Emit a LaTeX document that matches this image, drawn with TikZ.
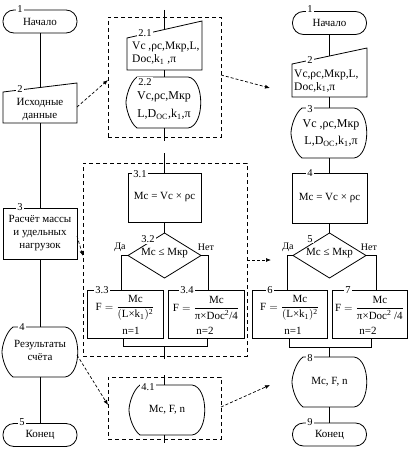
\documentclass[tikz,border=0pt]{standalone}
\usepackage{amsmath}
\usepackage{fontspec}
\setmainfont{Liberation Serif}
\usetikzlibrary{arrows.meta,calc}
\newcommand\dispshape[4]{%
 \draw[ln] ({#1-#3+11},{#2-#4}) -- ({#1+#3-13},{#2-#4})
   .. controls ({#1+#3+4},{#2-#4+2}) and ({#1+#3+4},{#2+#4-2}) .. ({#1+#3-13},{#2+#4})
   -- ({#1-#3+11},{#2+#4})
   .. controls ({#1-#3+4},{#2+#4-5}) and ({#1-#3},{#2+6}) .. ({#1-#3},{#2})
   .. controls ({#1-#3},{#2-6}) and ({#1-#3+4},{#2-#4+5}) .. ({#1-#3+11},{#2-#4}) -- cycle;}
\begin{document}
\begin{tikzpicture}[x=1pt,y=-1pt,
  every node/.style={font=\rmfamily\fontsize{11}{13}\selectfont, inner sep=0pt},
  ln/.style={line width=0.8pt},
  box/.style={draw, line width=0.8pt, rectangle, inner sep=0pt},
  term/.style={draw, line width=0.8pt, rounded corners=11pt, minimum width=74pt, minimum height=23pt},
  lbl/.style={fill=white, inner sep=1pt, font=\rmfamily\fontsize{10.5}{12}\selectfont},
  dbox/.style={draw, line width=0.8pt, dash pattern=on 4pt off 3pt},
  darr/.style={line width=0.7pt, dash pattern=on 3pt off 2pt, -{Latex[length=5pt,width=4pt]}},
  big/.style={font=\rmfamily\fontsize{12}{18}\selectfont, align=center},
  yn/.style={font=\rmfamily\fontsize{10}{12}\selectfont},
]
\useasboundingbox (0,0) rectangle (409,452);

% ================= Left column
\node[term] (t1) at (40,21.5) {Начало};
\draw[ln] (3,92) -- (77,83) -- (77,123) -- (3,123) -- cycle;
\coordinate (n2t) at (40,87.5);
\coordinate (n2b) at (40,123);
\coordinate (n2r) at (77,107);
\node[align=center] (n2) at (40,109) {Исходные\\данные};
\node[box, minimum width=74pt, minimum height=51pt, align=center] (b3) at (40,233.5) {Расчёт массы\\и удельных\\нагрузок};
\coordinate (b3r) at (77,236);
\dispshape{40}{352}{38}{25}
\coordinate (d4t) at (40,327);
\coordinate (d4b) at (40,377);
\coordinate (d4r) at (77,355);
\node[align=center] (d4) at (40,350.5) {Результаты\\счёта};
\node[term] (t5) at (40,435) {Конец};

\draw[ln] (t1.south) -- (n2t);
\draw[ln] (n2b) -- (b3.north);
\draw[ln] (b3.south) -- (d4t);
\draw[ln] (d4b) -- (t5.north);

\node[lbl] (l1) at (20,9) {1};
\node[lbl] (l2) at (20,89) {2};
\node[lbl] (l3) at (20,207.5) {3};
\node[lbl] (l4) at (22,327) {4};
\node[lbl] (l5) at (22,422.5) {5};

% ================= Middle column
\node[dbox, minimum width=113pt, minimum height=120pt] (db2) at (164.5,77) {};
\node[dbox, minimum width=164pt, minimum height=193pt] (dbb) at (165,259.5) {};
\node[dbox, minimum width=113pt, minimum height=62pt] (db41) at (164.5,408) {};

\coordinate (m0) at (164.5,10);
\draw[ln] (127,38) -- (202,21) -- (202,70) -- (127,70) -- cycle;
\coordinate (m21t) at (164.5,29.5);
\coordinate (m21b) at (164.5,70);
\node[anchor=west, align=left, font=\rmfamily\fontsize{11.5}{13}\selectfont] (m21) at (132,53.5) {Vc ,ρc,Mкр,L,\\Doc,k\textsubscript{1} ,π};
\dispshape{163.5}{102.5}{37.5}{25.5}
\coordinate (m22t) at (164.5,77);
\coordinate (m22b) at (164.5,128);
\node[big] (m22) at (164,106) {Vc,ρc,Mкр\\L,D\textsubscript{OC},k\textsubscript{1},π};
\coordinate (m1) at (164.5,141);
\coordinate (m2) at (164.5,153);
\node[box, minimum width=73pt, minimum height=49pt] (b31) at (164.5,197.5) {Mc = Vc × ρc};
\coordinate (d32t) at (164.5,233);
\coordinate (d32r) at (201,255.5);
\coordinate (d32b) at (164.5,278);
\coordinate (d32l) at (128,255.5);
\draw[ln] (d32t) -- (d32r) -- (d32b) -- (d32l) -- cycle;
\node (d32) at (164.5,253) {Mc ≤ Mкр};
\node[box, minimum width=76pt, minimum height=48pt] (b33) at (125,314) {};
\node[box, minimum width=76pt, minimum height=48pt] (b34) at (206,314) {};
\node (f33) at (125,308) {$\text{F} = \dfrac{\text{Mc}}{(\text{L×k}_{\text{1}})^{\text{2}}}$};
\node (n33) at (131,331) {n=1};
\node (f34) at (206,308) {$\text{F} = \dfrac{\text{Mc}}{\text{π×Doc}^{\text{2}}\text{/4}}$};
\node (n34) at (205,331) {n=2};
\coordinate (c33) at (121,290);
\coordinate (c34) at (208,290);
\coordinate (j33) at (123,338);
\coordinate (j34) at (207,338);
\coordinate (jl) at (123,346);
\coordinate (jr) at (207,346);
\coordinate (jc) at (164.5,346);
\coordinate (m3) at (164.5,359);
\coordinate (m4) at (164.5,375);
\dispshape{167}{410}{38}{25}
\coordinate (d41t) at (164.5,385);
\coordinate (d41b) at (164.5,435);
\coordinate (m5) at (164.5,443);
\node (d41) at (167,410) {Mc, F, n};

\draw[ln] (m0) -- (m21t);
\draw[ln] (m21b) -- (m22t);
\draw[ln] (m22b) -- (m1);
\draw[ln] (m2) -- (b31.north);
\draw[ln] (b31.south) -- (d32t);
\draw[ln] (d32l) -| (c33);
\draw[ln] (d32r) -| (c34);
\draw[ln] (j33) -- (jl) -- (jr) -- (j34);
\draw[ln] (jc) -- (m3);
\draw[ln] (m4) -- (d41t);
\draw[ln] (d41b) -- (m5);

\node[yn] (da1) at (120,247) {Да};
\node[yn] (net1) at (206,247) {Нет};
\node[lbl] (l21) at (145,33) {2.1};
\node[lbl] (l22) at (145,82) {2.2};
\node[lbl] (l31) at (140,174) {3.1};
\node[lbl] (l32) at (148,239) {3.2};
\node[lbl] (l33) at (102,290) {3.3};
\node[lbl] (l34) at (187,290) {3.4};
\node[lbl] (l41) at (148,387) {4.1};

% ================= Right column
\node[term] (r1) at (329.5,23) {Начало};
\draw[ln] (292,64) -- (367,48) -- (367,97) -- (292,97) -- cycle;
\coordinate (r2t) at (329.5,56);
\coordinate (r2b) at (329.5,97);
\node[anchor=west, align=left, font=\rmfamily\fontsize{11.5}{12.5}\selectfont] (r2) at (294,81) {Vc,ρc,Mкр,L,\\Doc,k\textsubscript{1},π};
\dispshape{329}{133}{38}{25}
\coordinate (r3t) at (329.5,108);
\coordinate (r3b) at (329.5,158);
\node[big, font=\rmfamily\fontsize{12}{17}\selectfont] (r3) at (331,133.5) {Vc ,ρc,Mкр\\L,D\textsubscript{OC},k\textsubscript{1},π};
\node[box, minimum width=75pt, minimum height=50pt] (r4) at (329.5,198) {Mc = Vc × ρc};
\coordinate (r5t) at (329.5,233);
\coordinate (r5r) at (366,255.5);
\coordinate (r5b) at (329.5,278);
\coordinate (r5l) at (293,255.5);
\draw[ln] (r5t) -- (r5r) -- (r5b) -- (r5l) -- cycle;
\node (r5) at (329.5,253) {Mc ≤ Mкр};
\node[box, minimum width=75pt, minimum height=48pt] (r6) at (289.5,314) {};
\node[box, minimum width=75pt, minimum height=48pt] (r7) at (369.5,314) {};
\node (f6) at (289.5,308) {$\text{F} = \dfrac{\text{Mc}}{(\text{L×k}_{\text{1}})^{\text{2}}}$};
\node (n6) at (293,331) {n=1};
\node (f7) at (369.5,308) {$\text{F} = \dfrac{\text{Mc}}{\text{π×Doc}^{\text{2}}\text{ /4}}$};
\node (n7) at (368,331) {n=2};
\coordinate (c6) at (287,290);
\coordinate (c7) at (376,290);
\coordinate (j6) at (289,338);
\coordinate (j7) at (371,338);
\coordinate (jl6) at (289,347);
\coordinate (jr7) at (371,347);
\coordinate (jc2) at (329.5,347);
\dispshape{329.5}{382}{37.5}{25}
\coordinate (r8t) at (329.5,357);
\coordinate (r8b) at (329.5,407);
\node (r8) at (329.5,382) {Mc, F, n};
\node[term] (r9) at (329.5,434.5) {Конец};

\draw[ln] (r1.south) -- (r2t);
\draw[ln] (r2b) -- (r3t);
\draw[ln] (r3b) -- (r4.north);
\draw[ln] (r4.south) -- (r5t);
\draw[ln] (r5l) -| (c6);
\draw[ln] (r5r) -| (c7);
\draw[ln] (j6) -- (jl6) -- (jr7) -- (j7);
\draw[ln] (jc2) -- (r8t);
\draw[ln] (r8b) -- (r9.north);

\node[yn] (da2) at (288,247) {Да};
\node[yn] (net2) at (369,247) {Нет};
\node[lbl] (rl1) at (310,9) {1};
\node[lbl] (rl2) at (310,60) {2};
\node[lbl] (rl3) at (310,109) {3};
\node[lbl] (rl4) at (310,173.5) {4};
\node[lbl] (rl5) at (310,239) {5};
\node[lbl] (rl6) at (270,290) {6};
\node[lbl] (rl7) at (348,290) {7};
\node[lbl] (rl8) at (310,358) {8};
\node[lbl] (rl9) at (310,422) {9};

% ================= Dashed arrows
\coordinate (a1e) at (108,80);
\coordinate (a2s) at (221,75);
\coordinate (a2e) at (270,88);
\coordinate (a3e) at (83,256);
\coordinate (a4s) at (247,260);
\coordinate (a4e) at (271,260);
\coordinate (a5e) at (108,405);
\coordinate (a6s) at (221,407);
\coordinate (a6e) at (270,385);
\draw[darr] (n2r) -- (a1e);
\draw[darr] (a2s) -- (a2e);
\draw[darr] (b3r) -- (a3e);
\draw[darr] (a4s) -- (a4e);
\draw[darr] (d4r) -- (a5e);
\draw[darr] (a6s) -- (a6e);
\end{tikzpicture}
\end{document}
